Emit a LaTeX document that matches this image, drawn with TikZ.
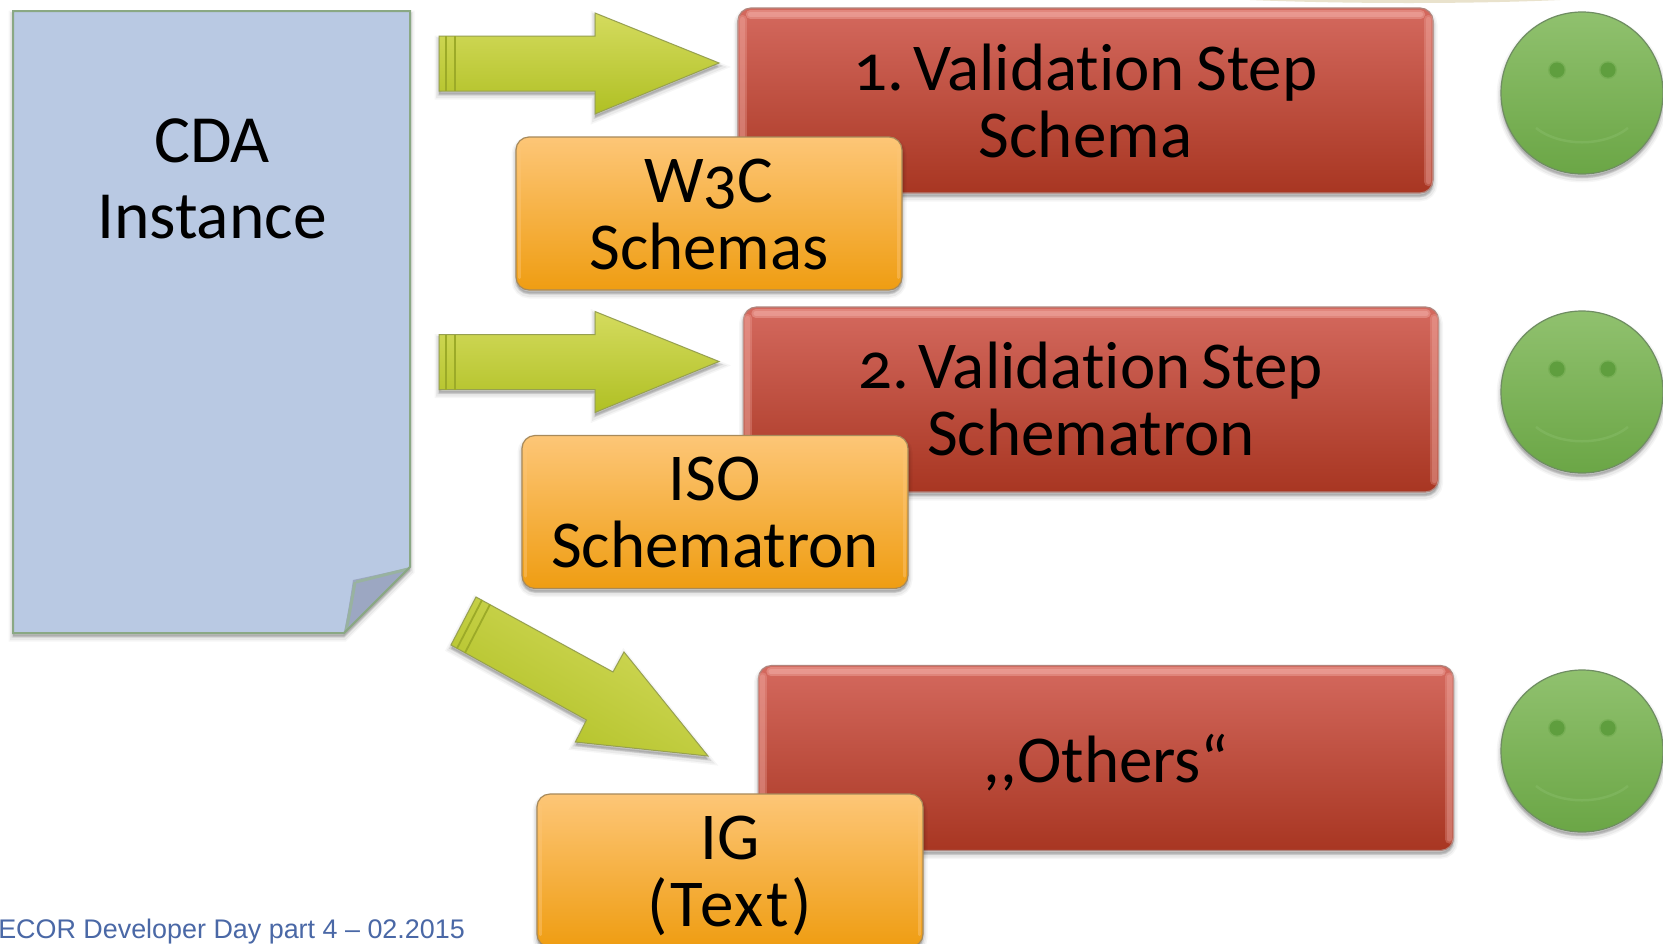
\documentclass[tikz,border=0pt]{standalone}
\usepackage{fontspec}
\setmainfont[Numbers=OldStyle,Ligatures=NoCommon,WordSpace=0.75]{Carlito}
\newfontfamily\footfont{Liberation Sans}
\definecolor{footblue}{HTML}{4A68A6}
\tikzset{
  x=1pt,y=-1pt,
  softshade/.style={
    preaction={draw=black,fill=black,opacity=.035,line width=9pt,transform canvas={yshift=-4pt}},
    preaction={draw=black,fill=black,opacity=.05,line width=6pt,transform canvas={yshift=-4pt}},
    preaction={draw=black,fill=black,opacity=.09,line width=3pt,transform canvas={yshift=-3pt}}},
  bigtext/.style={font=\fontsize{67}{67}\selectfont,align=center,text=black,inner sep=0pt},
  redbox/.style={softshade,bigtext,rectangle,rounded corners=13pt,draw=RedEdge,line width=1.2pt,
    top color=RedTop,bottom color=RedBot,minimum width=695pt,minimum height=185pt},
  orangebox/.style={softshade,bigtext,rectangle,rounded corners=13pt,draw=OrEdge,line width=1.2pt,
    top color=OrTop,bottom color=OrBot,minimum width=386pt,minimum height=153pt},
  ball/.style={softshade,circle,draw=BallEdge,line width=1.2pt,top color=BallTop,bottom color=BallBot,
    minimum size=162pt,inner sep=0pt},
  eye/.style={circle,fill=EyeCol,minimum size=15pt,inner sep=0pt,
    preaction={fill=EyeCol,opacity=.3,draw=EyeCol,line width=3pt}},
  smileline/.style={draw=SmileCol,line width=2.5pt,opacity=.55},
  glowtop/.style={line width=#1,line cap=round,draw=RedGlow,opacity=.4},
  glowside/.style={line width=#1,line cap=round,draw=RedGlow,opacity=.28},
  orglow/.style={line width=3pt,line cap=round,draw=OrTop,opacity=.45},
  blockarrow/.style={softshade,draw=ArrEdge,line width=1pt,top color=ArrTop,bottom color=ArrBot},
  band/.style={draw=ArrBand,line width=1.8pt},
  doc/.style={softshade,draw=DocEdge,line width=2pt,fill=DocFill},
}
\definecolor{RedEdge}{HTML}{B0857D}
\definecolor{RedTop}{HTML}{D4695E}
\definecolor{RedBot}{HTML}{A83622}
\definecolor{RedGlow}{HTML}{F6B4AC}
\definecolor{OrEdge}{HTML}{A88A5A}
\definecolor{OrTop}{HTML}{FDC677}
\definecolor{OrBot}{HTML}{EF9D12}
\definecolor{BallEdge}{HTML}{6F8D62}
\definecolor{BallTop}{HTML}{90C16E}
\definecolor{BallBot}{HTML}{6BA646}
\definecolor{EyeCol}{HTML}{5F9E3E}
\definecolor{SmileCol}{HTML}{86BB66}
\definecolor{ArrEdge}{HTML}{97A050}
\definecolor{ArrTop}{HTML}{D4DB5E}
\definecolor{ArrBot}{HTML}{B0C024}
\definecolor{ArrBand}{HTML}{9CAA28}
\definecolor{DocEdge}{HTML}{8AA884}
\definecolor{DocFill}{HTML}{B9C9E3}
\definecolor{FoldMid}{HTML}{9CA7C2}
\definecolor{Beige}{HTML}{E9E2CC}
\newcommand{\rowarrow}[1]{%
  \draw[blockarrow] (439,36+#1) -- (595,36+#1) -- (595,13+#1) -- (719,63+#1) -- (595,114+#1) -- (595,91+#1) -- (439,91+#1) -- cycle;
  \draw[band] (446,36+#1) -- (446,91+#1);
  \draw[band] (455,36+#1) -- (455,91+#1);
}
\newcommand{\redglow}[1]{%
  \foreach \w in {9pt,5pt}{
  \draw[glowtop=\w] ([xshift=13pt,yshift=-7pt]#1.north west) -- ([xshift=-13pt,yshift=-7pt]#1.north east);
  \draw[glowside=\w] ([xshift=-5pt,yshift=-12pt]#1.north east) -- ([xshift=-5pt,yshift=12pt]#1.south east);
  \draw[glowside=\w] ([xshift=5pt,yshift=-12pt]#1.north west) -- ([xshift=5pt,yshift=12pt]#1.south west);
  }
}
\newcommand{\orangeglow}[1]{%
  \draw[orglow] ([xshift=4pt,yshift=-13pt]#1.north west) -- ([xshift=4pt,yshift=13pt]#1.south west);
  \draw[orglow] ([xshift=-4pt,yshift=-13pt]#1.north east) -- ([xshift=-4pt,yshift=13pt]#1.south east);
}
\newcommand{\smiley}[2]{%
  \node[ball] (#1) at (1582,#2) {};
  \node[eye] (#1eyeL) at ([xshift=-25pt,yshift=23pt]#1.center) {};
  \node[eye] (#1eyeR) at ([xshift=26pt,yshift=23pt]#1.center) {};
  \draw[smileline] ([xshift=-46pt,yshift=-35pt]#1.center) .. controls ([xshift=-22pt,yshift=-54pt]#1.center) and ([xshift=22pt,yshift=-54pt]#1.center) .. ([xshift=46pt,yshift=-35pt]#1.center);
}
\begin{document}
\begin{tikzpicture}
\useasboundingbox (0,0) rectangle (1663,943);
\clip (0,0) rectangle (1663,943);
\fill[white] (0,0) rectangle (1663,943);
\fill[Beige] (1250,0) .. controls (1350,4) and (1470,4) .. (1560,0) -- cycle;
% document
\draw[doc] (13,11) -- (410,11) -- (410,567) -- (344,633) -- (13,633) -- cycle;
\fill[FoldMid] (408,568) -- (353,580) .. controls (350,600) and (347,618) .. (344,632) -- cycle;
\draw[DocEdge!70!DocFill,line width=3pt] (408,569) -- (356,582);
\draw[DocEdge!70!DocFill,line width=3pt] (355,582) .. controls (352,600) and (349,616) .. (346,631);
\draw[DocEdge,line width=2pt] (410,567) -- (344,633);
\node[bigtext,font=\fontsize{67.5}{76}\selectfont] (cda) at (212,179) {CDA\\Instance};
% arrows
\rowarrow{0}
\rowarrow{298.5}
\draw[blockarrow,shading angle=-30] (476,597) -- (613,672) -- (624,652) -- (708,756) -- (575.4,742) -- (586.5,720) -- (451,645) -- cycle;
\draw[band] (482,600) -- (457,648.4);
\draw[band] (490,604.5) -- (465,652.8);
% row 1
\node[redbox] (r1) at (1085.5,100.5) {};
\redglow{r1}
\node[bigtext] (t1) at (1085.5,101) {1.\kern9pt Validation Step\\Schema};
\node[orangebox] (o1) at (709,213.5) {};
\orangeglow{o1}
\node[bigtext] (u1) at (709,214.5) {W3C\\Schemas};
\smiley{s1}{93}
% row 2
\node[redbox] (r2) at (1091,399.5) {};
\redglow{r2}
\node[bigtext] (t2) at (1091,399) {2.\kern9pt Validation Step\\Schematron};
\node[orangebox] (o2) at (715,512) {};
\orangeglow{o2}
\node[bigtext] (u2) at (715,512.5) {ISO\\Schematron};
\smiley{s2}{392}
% row 3
\node[redbox] (r3) at (1106,758) {};
\redglow{r3}
\node[bigtext] (t3) at (1106,763) {,{},Others“};
\node[orangebox] (o3) at (730,870.5) {};
\orangeglow{o3}
\node[bigtext] (u3) at (730,876) {IG\\\addfontfeature{LetterSpace=4}(Text)};
\smiley{s3}{751}
% footer
\node[anchor=base east,inner sep=0pt,text=footblue,font=\footfont\fontsize{26.9}{28}\selectfont] (foot) at (465,938) {DECOR Developer Day part 4 – 02.2015};
\end{tikzpicture}
\end{document}
